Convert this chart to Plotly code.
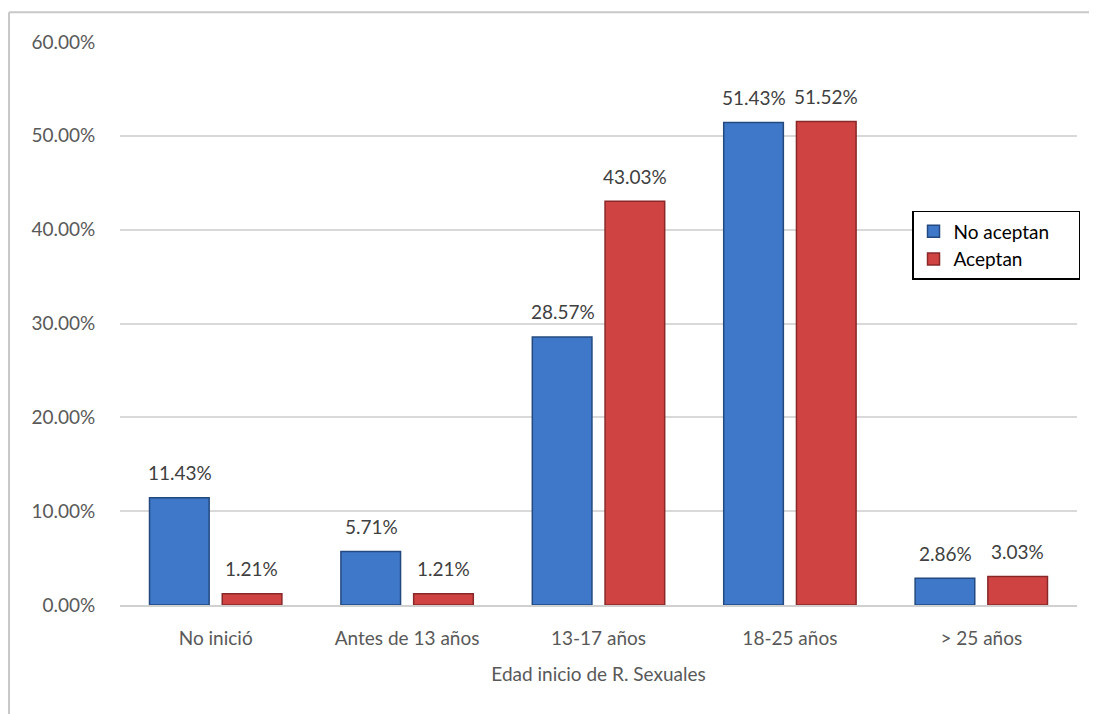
import plotly.graph_objects as go

categories = ["No inició", "Antes de 13 años", "13-17 años", "18-25 años", "> 25 años"]
no_aceptan = [0.1143, 0.0571, 0.2857, 0.5143, 0.0286]
aceptan = [0.0121, 0.0121, 0.4303, 0.5152, 0.0303]

FONT = "Lato, Open Sans, sans-serif"
GREY = "#595959"
LABEL = "#404040"
PAD = "\u00a0" * 5  # widens the legend box like the original

fig = go.Figure()
fig.add_trace(go.Bar(
    x=categories, y=no_aceptan, name="No aceptan" + PAD,
    marker=dict(color="#3f78c8", line=dict(color="#23497f", width=1.5)),
))
fig.add_trace(go.Bar(
    x=categories, y=aceptan, name="Aceptan",
    marker=dict(color="#d04343", line=dict(color="#882828", width=1.5)),
))

# data labels, placed a bit higher than plotly's "outside" text
for series, shift in ((no_aceptan, -36), (aceptan, 36)):
    for cat, v in zip(categories, series):
        fig.add_annotation(x=cat, y=v, text=f"{v:.2%}", showarrow=False,
                           xshift=shift, yshift=25, yanchor="middle",
                           font=dict(size=19, color=LABEL, family=FONT))

# outer chart frame (grey line on left and top)
fig.add_shape(type="line", xref="paper", yref="paper", x0=-0.116, x1=1.2, y0=1.053, y1=1.053,
              line=dict(color="#c8c8c8", width=2))
fig.add_shape(type="line", xref="paper", yref="paper", x0=-0.116, x1=-0.116, y0=1.053, y1=-0.3,
              line=dict(color="#c8c8c8", width=2))

fig.update_layout(
    width=1097, height=714,
    margin=dict(l=112, r=28, t=34, b=117),
    paper_bgcolor="white", plot_bgcolor="white",
    barmode="group", bargap=0.24, bargroupgap=0.18,
    font=dict(family=FONT, size=19, color=GREY),
    showlegend=True,
    legend=dict(
        x=0.8276, y=0.70, xanchor="left", yanchor="top",
        bgcolor="white", bordercolor="black", borderwidth=1.5,
        font=dict(size=19, color="black", family=FONT),
        itemwidth=30, tracegroupgap=0,
    ),
    xaxis=dict(
        showline=True, linecolor="#d0d0d0", linewidth=2,
        tickfont=dict(size=19, color=GREY),
        ticks="outside", ticklen=15, tickcolor="rgba(0,0,0,0)",
        title=dict(text="Edad inicio de R. Sexuales", font=dict(size=19, color=GREY), standoff=20),
    ),
    yaxis=dict(
        range=[0, 0.6], dtick=0.1, tickformat=".2%",
        showgrid=True, gridcolor="#d9d9d9", gridwidth=1.5,
        zeroline=False, ticks="outside", ticklen=20, tickcolor="rgba(0,0,0,0)",
        tickfont=dict(size=19, color=GREY),
    ),
)

fig.write_html("out.html")
